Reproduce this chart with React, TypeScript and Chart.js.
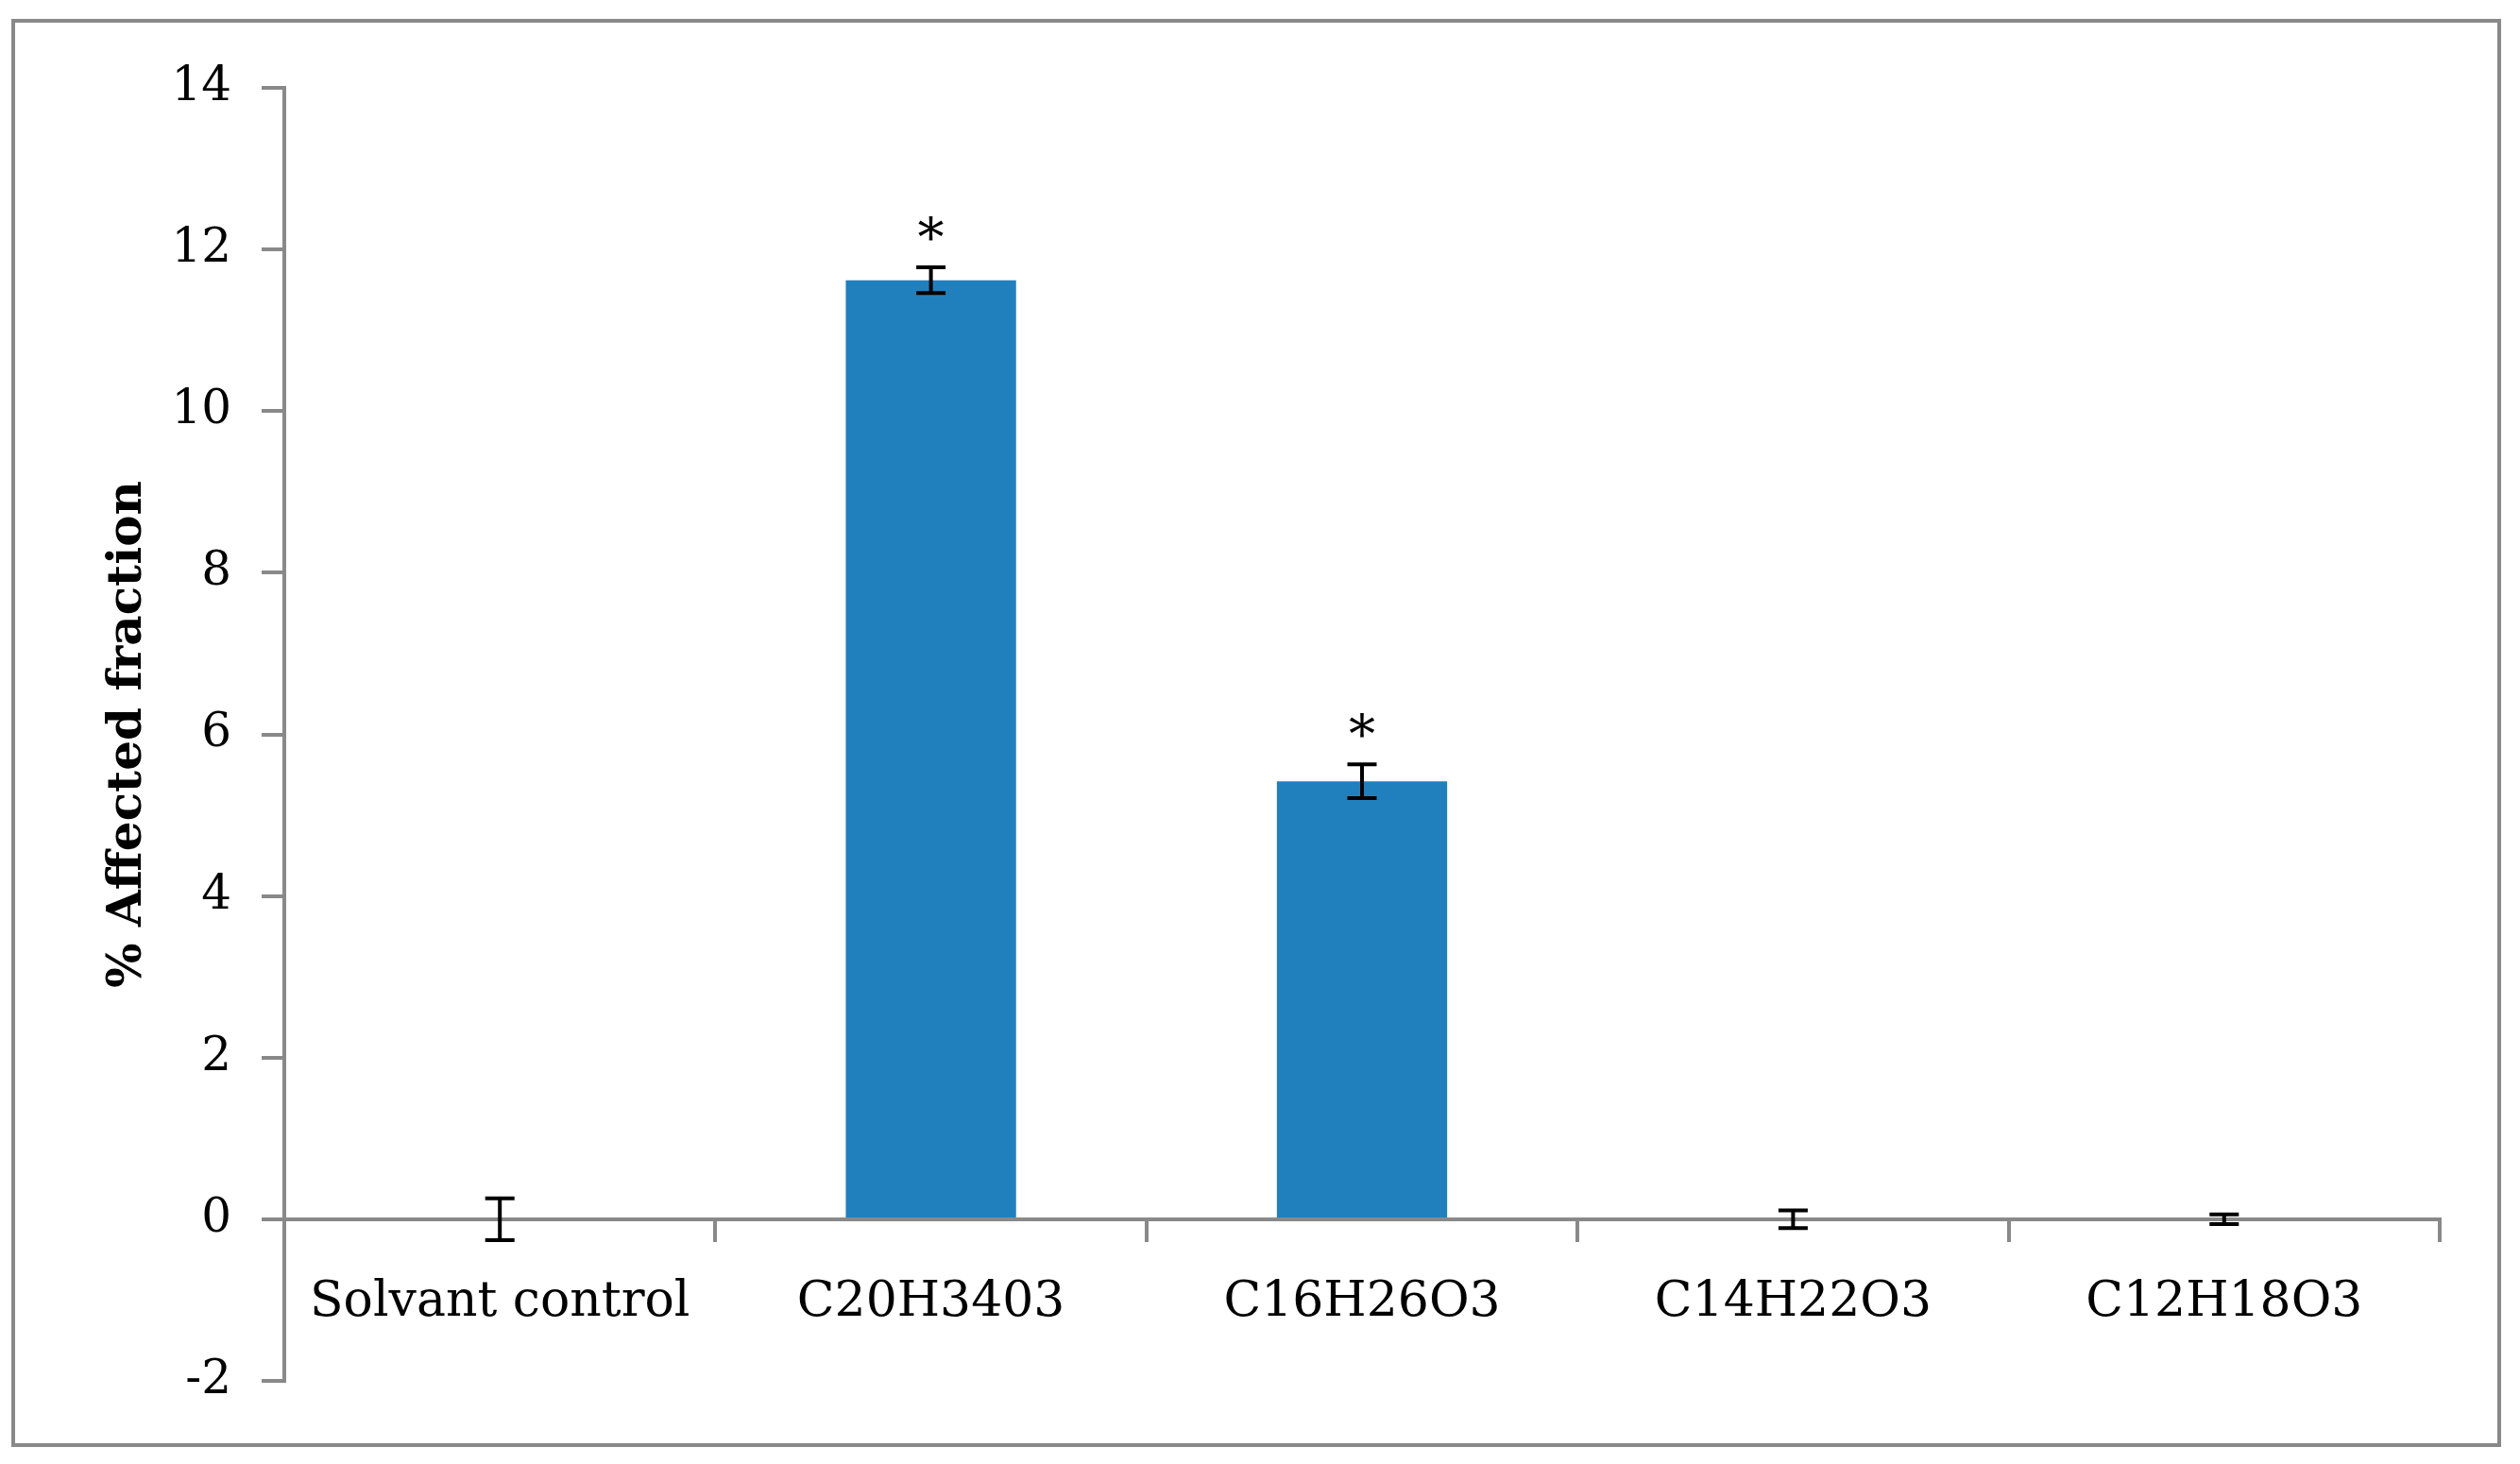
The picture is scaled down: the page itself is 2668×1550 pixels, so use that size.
import React, { useEffect, useRef } from "react";
import { Chart, registerables } from "chart.js";

Chart.register(...registerables);

const categories = ["Solvant control", "C20H3403", "C16H26O3", "C14H22O3", "C12H18O3"];
const values = [0, 11.62, 5.42, 0, 0];
const errors = [0.26, 0.16, 0.21, 0.11, 0.06];
const significance = ["", "*", "*", "", ""];
const yMin = -2;
const yMax = 14;
const yStep = 2;
const yTitle = "% Affected fraction";

const FONT = "'DejaVu Serif', serif";
const AXIS_GRAY = "#898989";

const errorBarPlugin = {
  id: "errorBars",
  afterDatasetsDraw(chart: any) {
    const meta = chart.getDatasetMeta(0);
    const yScale = chart.scales.y;
    const ctx = chart.ctx;
    ctx.save();
    ctx.strokeStyle = "#000";
    ctx.fillStyle = "#000";
    ctx.lineWidth = 4;
    ctx.lineCap = "butt";
    meta.data.forEach((bar: any, i: number) => {
      const x = bar.x;
      const top = yScale.getPixelForValue(values[i] + errors[i]);
      const bot = yScale.getPixelForValue(values[i] - errors[i]);
      const half = 15.5;
      ctx.beginPath();
      ctx.moveTo(x, top);
      ctx.lineTo(x, bot);
      ctx.moveTo(x - half, top);
      ctx.lineTo(x + half, top);
      ctx.moveTo(x - half, bot);
      ctx.lineTo(x + half, bot);
      ctx.stroke();
      if (significance[i]) {
        ctx.font = `56px ${FONT}`;
        ctx.textAlign = "center";
        ctx.textBaseline = "alphabetic";
        ctx.fillText(significance[i], x, top - 12);
      }
    });
    ctx.restore();
  },
};

export default function App() {
  const canvasRef = useRef<HTMLCanvasElement | null>(null);

  useEffect(() => {
    if (!canvasRef.current) return;
    Chart.defaults.font.family = FONT;
    const chart = new Chart(canvasRef.current, {
      type: "bar",
      data: {
        labels: categories,
        datasets: [
          {
            data: values,
            backgroundColor: "#2080BE",
            borderWidth: 0,
            barPercentage: 0.395,
            categoryPercentage: 1,
          },
        ],
      },
      options: {
        responsive: false,
        devicePixelRatio: 1,
        animation: false,
        layout: { padding: { left: 0, right: 85, top: 93, bottom: 88 } },
        plugins: {
          legend: { display: false },
          tooltip: { enabled: false },
          title: { display: false },
        },
        scales: {
          x: {
            type: "category",
            position: { y: 0 } as any,
            offset: true,
            grid: {
              offset: true,
              drawOnChartArea: false,
              drawTicks: true,
              tickLength: 22,
              color: AXIS_GRAY,
              lineWidth: 4,
            },
            border: { display: true, color: AXIS_GRAY, width: 4 },
            ticks: {
              color: "#000",
              font: { size: 52, family: FONT },
              padding: 35,
              maxRotation: 0,
              autoSkip: false,
            },
          },
          y: {
            type: "linear",
            position: "left",
            min: yMin,
            max: yMax,
            afterFit: (scale: any) => {
              scale.width = 301;
            },
            grid: {
              drawOnChartArea: false,
              drawTicks: true,
              tickLength: 24,
              color: AXIS_GRAY,
              lineWidth: 4,
            },
            border: { display: true, color: AXIS_GRAY, width: 4 },
            ticks: {
              stepSize: yStep,
              color: "#000",
              font: { size: 50, family: FONT },
              padding: 32,
            },
            title: {
              display: true,
              text: yTitle,
              color: "#000",
              font: { size: 50, weight: "bold", family: FONT },
              padding: { top: 106, bottom: 0 },
            },
          },
        },
      },
      plugins: [errorBarPlugin],
    });
    return () => chart.destroy();
  }, []);

  return (
    <div style={{ position: "fixed", left: 0, top: 0, width: 2668, height: 1550, background: "#fff" }}>
      <div
        style={{
          position: "absolute",
          left: 12,
          top: 20,
          width: 2636,
          height: 1512,
          border: `4px solid ${AXIS_GRAY}`,
          boxSizing: "border-box",
        }}
      />
      <canvas
        ref={canvasRef}
        width={2668}
        height={1550}
        style={{ position: "absolute", left: 0, top: 0, width: 2668, height: 1550 }}
      />
    </div>
  );
}
